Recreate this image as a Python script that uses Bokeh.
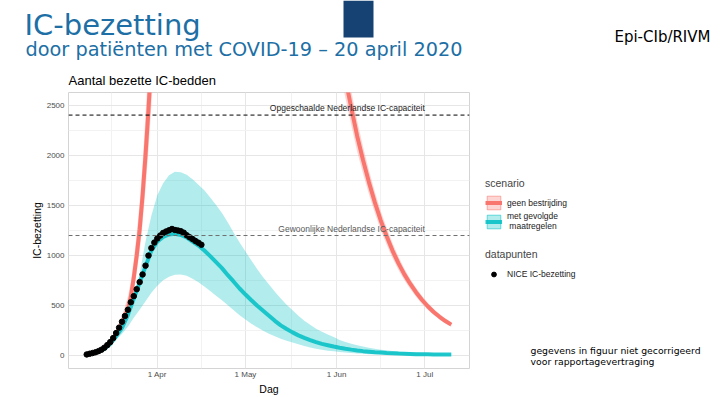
from datetime import datetime
import pandas as pd
from bokeh.plotting import figure
from bokeh.layouts import column, row
from bokeh.models import (Range1d, FixedTicker, Span, Label, Legend, LegendItem, BoxAnnotation)
from bokeh.embed import file_html
from bokeh.resources import INLINE

# ---------------- data ----------------
# NICE IC occupancy, daily from 8 March to 16 April 2020
nice_dates = pd.date_range("2020-03-08", "2020-04-16", freq="D")
nice_values = [15, 22, 29, 37, 48, 62, 82, 108, 138, 178,
               228, 282, 341, 398, 460, 535, 596, 665, 736, 812,
               900, 1000, 1075, 1130, 1170, 1200, 1226, 1240, 1252, 1265,
               1255, 1250, 1243, 1228, 1203, 1183, 1165, 1145, 1128, 1108]

# scenario "met gevolgde maatregelen": every 2 days from 8 March to 10 July
teal_dates = pd.date_range("2020-03-08", "2020-07-10", freq="2D")
teal_mid = [15, 25, 42, 70, 120, 195, 280, 410, 570, 730, 893, 1050,
            1140, 1185, 1210, 1217, 1205, 1180, 1140, 1100, 1050, 995, 935, 875,
            805, 740, 672, 612, 555, 500, 450, 400, 350, 305, 268, 235,
            205, 180, 158, 138, 120, 107, 94, 82, 72, 63, 55, 48,
            43, 38, 34, 30, 27, 24, 22, 20, 18, 17, 16, 15, 15, 14, 14]
teal_hi = [16, 28, 48, 82, 140, 225, 310, 440, 600, 820, 1140, 1400,
           1600, 1720, 1800, 1835, 1830, 1805, 1760, 1705, 1650, 1580, 1505, 1425,
           1330, 1228, 1130, 1040, 952, 865, 785, 712, 640, 572, 510, 455,
           400, 352, 310, 272, 242, 215, 190, 160, 140, 122, 106, 93,
           82, 71, 63, 56, 50, 45, 40, 37, 34, 31, 29, 27, 26, 25, 24]
teal_lo = [14, 23, 38, 62, 100, 160, 222, 290, 380, 460, 545, 630,
           700, 755, 790, 810, 812, 800, 770, 735, 693, 648, 600, 555,
           505, 455, 405, 362, 320, 285, 252, 222, 196, 172, 152, 133,
           116, 100, 84, 72, 62, 53, 46, 39, 34, 29, 25, 21,
           18, 16, 14, 12, 11, 10, 9, 9, 8, 8, 8, 8, 8, 8, 8]

# scenario "geen bestrijding": visible rising part and visible falling part
red_rise_dates = pd.to_datetime(["2020-03-08", "2020-03-10", "2020-03-12", "2020-03-14",
                                 "2020-03-16", "2020-03-18", "2020-03-20", "2020-03-22",
                                 "2020-03-23", "2020-03-24", "2020-03-25", "2020-03-26",
                                 "2020-03-27", "2020-03-28", "2020-03-29", "2020-03-30",
                                 "2020-03-31"])
red_rise_mid = [16, 27, 46, 78, 130, 215, 320, 470, 590, 780, 1000, 1260, 1600, 2000, 2450, 2980, 3550]
red_rise_hi = [17, 30, 53, 92, 158, 265, 400, 590, 740, 960, 1220, 1530, 1920, 2400, 2900, 3500, 4150]
red_rise_lo = [15, 24, 40, 66, 108, 175, 255, 370, 470, 640, 830, 1040, 1320, 1660, 2050, 2500, 3000]

red_fall_dates = pd.date_range("2020-06-02", "2020-07-10", freq="2D")
red_fall_mid = [3050, 2760, 2470, 2190, 1950, 1730, 1530, 1350, 1195, 1050,
                925, 815, 720, 635, 560, 495, 438, 390, 348, 312]
red_fall_hi = [3260, 2950, 2640, 2340, 2085, 1850, 1637, 1445, 1280, 1125,
               990, 872, 770, 680, 600, 530, 469, 418, 373, 334]
red_fall_lo = [2840, 2570, 2300, 2035, 1815, 1610, 1425, 1255, 1110, 975,
               860, 758, 670, 590, 520, 460, 407, 363, 324, 290]

capacity_values = [2400, 1200]
capacity_labels = ["Opgeschaalde Nederlandse IC-capaciteit", "Gewoonlijke Nederlandse IC-capaciteit"]

x_tick_dates = [datetime(2020, 4, 1), datetime(2020, 5, 1), datetime(2020, 6, 1), datetime(2020, 7, 1)]
x_tick_labels = ["1 Apr", "1 May", "1 Jun", "1 Jul"]
x_minor_dates = [datetime(2020, 3, 16, 12), datetime(2020, 4, 16), datetime(2020, 5, 16, 12),
                 datetime(2020, 6, 16)]
y_ticks = [0, 500, 1000, 1500, 2000, 2500]
y_minor = [250, 750, 1250, 1750, 2250]

RED = "#F8766D"
TEAL = "#00BFC4"
FONT = "Liberation Sans"
SLIDE_FONT = "DejaVu Sans"
BLUE = "#1d6fa5"

def ms(dt):
    return (pd.Timestamp(dt) - pd.Timestamp("1970-01-01")).total_seconds() * 1000.0

# ---------------- layout geometry (window pixels) ----------------
W, H = 725, 397
HEADER_H = 90           # header strip above the chart
MAIN_W = 477            # chart figure width
FRAME_L, FRAME_R, FRAME_T, FRAME_B = 68, 469, 92, 368

def blank_plot(width, height, x0, x1, y_top, y_bottom, **borders):
    f = figure(width=width, height=height, output_backend="svg", toolbar_location=None,
               x_range=Range1d(x0, x1), y_range=Range1d(y_bottom, y_top),
               x_axis_location=None, y_axis_location=None, **borders)
    f.grid.visible = False
    f.outline_line_color = None
    f.title.visible = False
    f.background_fill_color = "white"
    f.border_fill_color = "white"
    return f

def hlabel(fig, x, y, text, size, color, font, align="left"):
    fig.add_layout(Label(x=x, y=y, text=text, text_align=align, text_baseline="middle",
                         text_font=font, text_font_size=size, text_color=color))

# ---------------- header (titles, logo, source) ----------------
hdr = blank_plot(W, HEADER_H, 0, W, 0, HEADER_H, min_border=0)
hdr.add_layout(BoxAnnotation(left=343, right=373, top=0, bottom=37,
                             fill_color="#154273", fill_alpha=1, line_color=None))
hlabel(hdr, 24, 24, "IC-bezetting", "29px", BLUE, SLIDE_FONT)
hlabel(hdr, 25, 49, "door patiënten met COVID-19 \u2013 20 april 2020", "19.3px", BLUE, SLIDE_FONT)
hlabel(hdr, 710, 36, "Epi-CIb/RIVM", "15px", "#000000", SLIDE_FONT, align="right")
hlabel(hdr, 68, 80, "Aantal bezette IC-bedden", "13px", "#000000", FONT)

# ---------------- main chart ----------------
x0 = pd.Timestamp("2020-03-08") - pd.Timedelta(days=6.2)
x1 = pd.Timestamp("2020-07-10") + pd.Timedelta(days=6.2)

p = figure(width=MAIN_W, height=H - HEADER_H, x_axis_type="datetime", output_backend="svg",
           toolbar_location=None, x_range=Range1d(ms(x0), ms(x1)),
           y_range=Range1d(-125, 2625),
           min_border_left=FRAME_L, min_border_right=MAIN_W - FRAME_R,
           min_border_top=FRAME_T - HEADER_H, min_border_bottom=H - FRAME_B)
p.title.visible = False
p.background_fill_color = "white"
p.border_fill_color = "white"
p.outline_line_color = "#d4d4d4"
p.outline_line_width = 1

p.xgrid.ticker = FixedTicker(ticks=[ms(d) for d in x_tick_dates], minor_ticks=[ms(d) for d in x_minor_dates])
p.ygrid.ticker = FixedTicker(ticks=y_ticks, minor_ticks=y_minor)
for g in (p.xgrid, p.ygrid):
    g.grid_line_color = "#e6e6e6"
    g.grid_line_width = 1
    g.minor_grid_line_color = "#f2f2f2"
    g.minor_grid_line_width = 1

p.xaxis.ticker = FixedTicker(ticks=[ms(d) for d in x_tick_dates])
p.xaxis.major_label_overrides = {ms(d): lab for d, lab in zip(x_tick_dates, x_tick_labels)}
p.yaxis.ticker = FixedTicker(ticks=y_ticks)
for ax in (p.xaxis, p.yaxis):
    ax.axis_line_color = None
    ax.major_tick_line_color = None
    ax.minor_tick_line_color = None
    ax.major_tick_out = 0
    ax.major_tick_in = 0
    ax.minor_tick_out = 0
    ax.minor_tick_in = 0
    ax.major_label_text_font = FONT
    ax.major_label_text_font_size = "8px"
    ax.major_label_text_color = "#4d4d4d"
    ax.axis_label_text_font = FONT
    ax.axis_label_text_font_size = "10.5px"
    ax.axis_label_text_font_style = "normal"
    ax.axis_label_text_color = "#000000"
p.xaxis.axis_label = "Dag"
p.yaxis.axis_label = "IC-bezetting"
p.xaxis.major_label_standoff = 1
p.xaxis.axis_label_standoff = 1
p.yaxis.major_label_standoff = 4
p.yaxis.axis_label_standoff = 1

p.varea(x=teal_dates, y1=teal_lo, y2=teal_hi, fill_color=TEAL, fill_alpha=0.3)
p.varea(x=red_rise_dates, y1=red_rise_lo, y2=red_rise_hi, fill_color=RED, fill_alpha=0.3)
p.varea(x=red_fall_dates, y1=red_fall_lo, y2=red_fall_hi, fill_color=RED, fill_alpha=0.3)
p.line(x=red_rise_dates, y=red_rise_mid, line_color=RED, line_width=4)
p.line(x=red_fall_dates, y=red_fall_mid, line_color=RED, line_width=4)
p.line(x=teal_dates, y=teal_mid, line_color=TEAL, line_width=4, line_alpha=0.85)
p.scatter(x=nice_dates, y=nice_values, size=5.5, color="black")

span_colors = ["#000000", "#6e6e6e"]
text_colors = ["#222222", "#5a5a5a"]
for v, lab, sc, tc in zip(capacity_values, capacity_labels, span_colors, text_colors):
    p.add_layout(Span(location=v, dimension="width", line_color=sc, line_dash="4 3", line_width=1))
    p.add_layout(Label(x=ms(x_tick_dates[-1]), y=v, text=lab, text_align="right",
                       text_baseline="bottom", y_offset=2, text_font=FONT,
                       text_font_size="8.5px", text_color=tc))

# ---------------- side panel: legends and footnote ----------------
# its frame lines up with the chart's frame (rows align plot borders)
side = blank_plot(W - MAIN_W, H - HEADER_H, MAIN_W, W, FRAME_T, FRAME_B,
                  min_border_left=0, min_border_right=0,
                  min_border_top=FRAME_T - HEADER_H, min_border_bottom=H - FRAME_B)
# legend keys: same series, drawn far outside this panel's ranges (never visible)
k_rband = side.varea(x=red_fall_dates, y1=red_fall_lo, y2=red_fall_hi, fill_color=RED, fill_alpha=0.3)
k_rbox = side.quad(left=red_fall_dates, right=red_fall_dates, bottom=red_fall_lo, top=red_fall_hi,
                   fill_color=None, line_color=RED, line_alpha=0.55, line_width=1)
k_rline = side.line(x=red_fall_dates, y=red_fall_mid, line_color=RED, line_width=4)
k_tband = side.varea(x=teal_dates, y1=teal_lo, y2=teal_hi, fill_color=TEAL, fill_alpha=0.3)
k_tbox = side.quad(left=teal_dates, right=teal_dates, bottom=teal_lo, top=teal_hi,
                   fill_color=None, line_color=TEAL, line_alpha=0.55, line_width=1)
k_tline = side.line(x=teal_dates, y=teal_mid, line_color=TEAL, line_width=4, line_alpha=0.85)
k_pts = side.scatter(x=nice_dates, y=nice_values, size=5.5, color="black")

def style_legend(lg, glyph_h, title_gap):
    lg.border_line_color = None
    lg.background_fill_alpha = 0
    lg.padding = 0
    lg.margin = 0
    lg.spacing = 0
    lg.glyph_width = 17
    lg.glyph_height = glyph_h
    lg.label_height = glyph_h
    lg.label_standoff = 5
    lg.label_text_font = FONT
    lg.label_text_font_size = "8.5px"
    lg.label_text_color = "#1a1a1a"
    lg.title_text_font = FONT
    lg.title_text_font_size = "10.5px"
    lg.title_text_font_style = "normal"
    lg.title_standoff = title_gap

LEG_X = 485 - MAIN_W
leg1 = Legend(items=[LegendItem(label="geen bestrijding", renderers=[k_rband, k_rbox, k_rline]),
                     LegendItem(label="met gevolgde\n maatregelen", renderers=[k_tband, k_tbox, k_tline])],
              title="scenario", location=(LEG_X, FRAME_B - 231))
style_legend(leg1, 17, 5)
side.add_layout(leg1)

leg2 = Legend(items=[LegendItem(label="NICE IC-bezetting", renderers=[k_pts])],
              title="datapunten", location=(LEG_X, FRAME_B - 280))
style_legend(leg2, 12, 8)
side.add_layout(leg2)

hlabel(side, 530, 350, "gegevens in figuur niet gecorrigeerd", "9.3px", "#000000", SLIDE_FONT)
hlabel(side, 530, 360.5, "voor rapportagevertraging", "9.3px", "#000000", SLIDE_FONT)

layout = column(hdr, row(p, side, spacing=0), spacing=0)
open("out.html", "w").write(file_html(layout, INLINE))
